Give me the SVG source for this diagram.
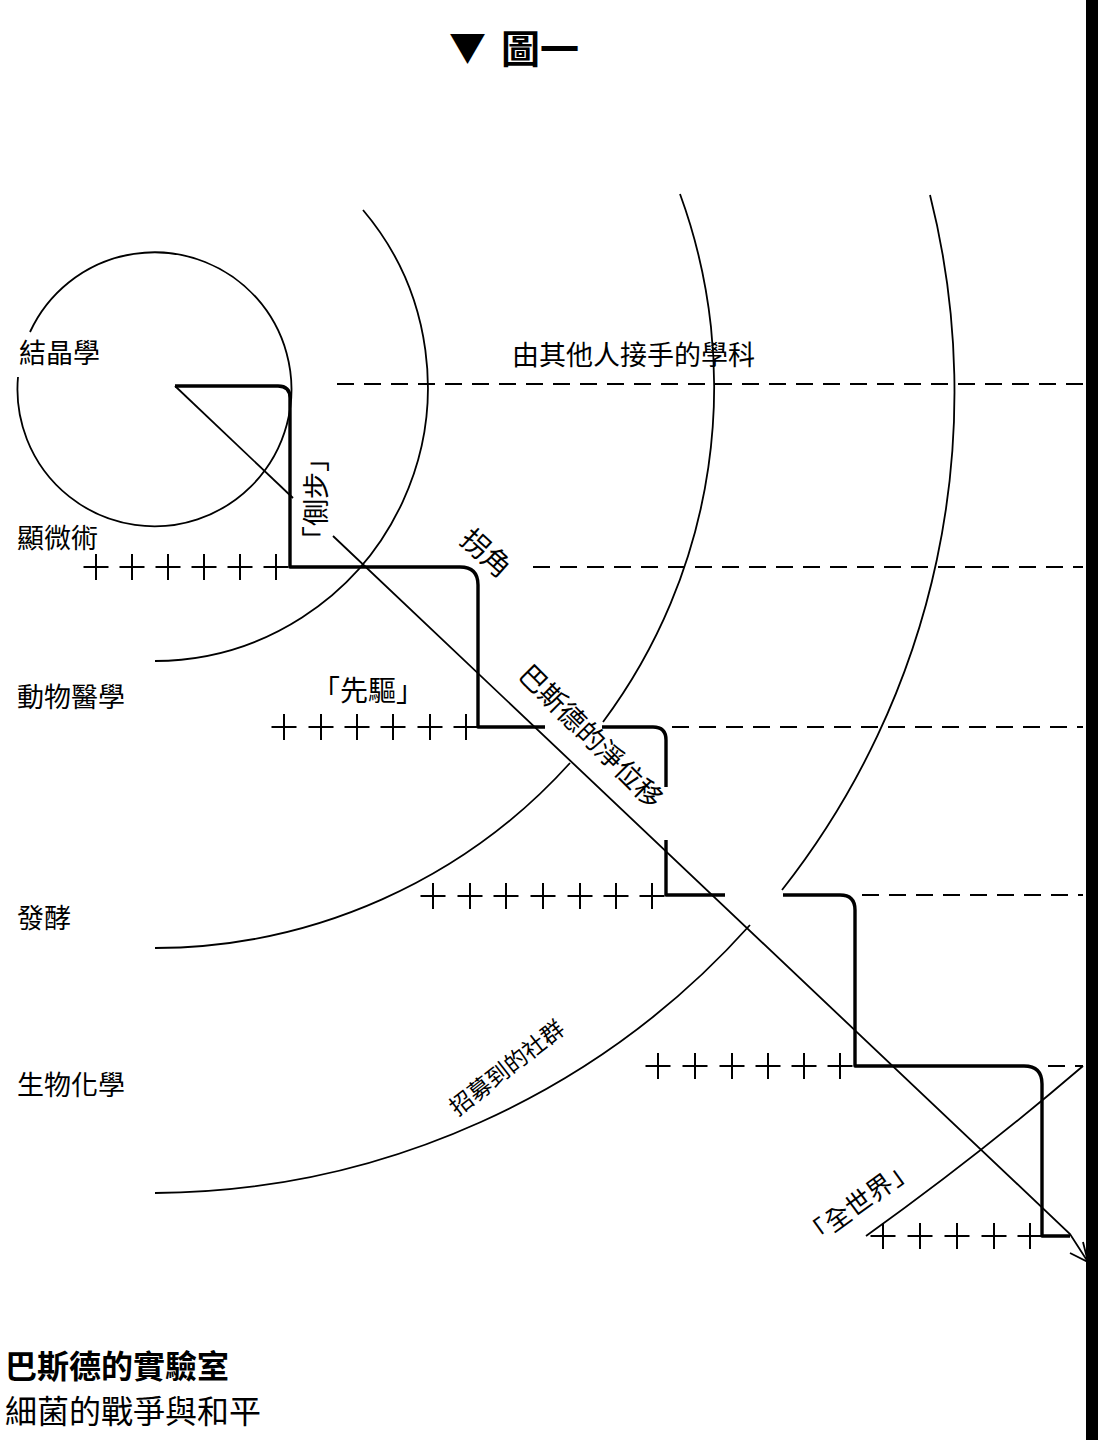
<svg xmlns="http://www.w3.org/2000/svg" xmlns:xlink="http://www.w3.org/1999/xlink" width="1098" height="1440" viewBox="0 0 1098 1440">
<style>
.thin{fill:none;stroke:#000;stroke-width:1.8}
.thick{fill:none;stroke:#000;stroke-width:3.4;stroke-linejoin:round}
.dash{fill:none;stroke:#000;stroke-width:1.8;stroke-dasharray:17 10}
.cr{fill:none;stroke:#000;stroke-width:2}
text{font-family:"Noto Sans CJK TC","Noto Sans CJK SC",sans-serif;fill:#000}
.lab{font-size:27px}
</style>
<defs>
<path id="cross" d="M-12.5,0 H12.5 M0,-13 V13"/>
</defs>
<rect x="0" y="0" width="1098" height="1440" fill="#fff"/>
<rect x="1086" y="0" width="12" height="1440" fill="#000"/>

<g id="title">
<text font-size="37" font-weight="bold" x="449" y="62">▼</text>
<text font-size="39" font-weight="bold" x="501" y="63">圖一</text>
</g>

<g id="connectors">
<g id="arcs">
<path class="thin" d="M18,377 A137,137 0 1 0 30,332"/>
<path class="thin" d="M363,210 A274,274 0 0 1 155,661"/>
<path class="thin" d="M680,194 A561,561 0 0 1 603,722"/>
<path class="thin" d="M570,763 A561,561 0 0 1 155,948"/>
<path class="thin" d="M930,195 A805,805 0 0 1 782,890"/>
<path class="thin" d="M750,925 A805,805 0 0 1 155,1193"/>
<path class="thin" d="M1083,1066 Q978,1156 866,1236"/>
</g>
<g id="diagonal">
<path class="thin" d="M175,386 L293,498"/>
<path class="thin" d="M333,536 L1070,1234 L1088,1262"/>
<path class="thin" d="M1083,1242 L1088,1262 L1070,1253"/>
</g>
<g id="staircase">
<path class="thick" d="M175,386 H278 Q290,386 290,398 V567 H460 Q478,567 478,585 V727 H545"/>
<path class="thick" d="M602,727 H653 Q666,727 666,740 V787"/>
<path class="thick" d="M666,840 V895 H725"/>
<path class="thick" d="M783,895 H840 Q855,895 855,910 V1066 H1024 Q1042,1066 1042,1084 V1236 H1070"/>
</g>
<g id="dashed-lines">
<path class="dash" d="M337,384 H1083"/>
<path class="dash" d="M533,567 H1083"/>
<path class="dash" d="M672,727 H1083"/>
<path class="dash" d="M862,895 H1083"/>
<path class="dash" d="M1048,1066 H1083"/>
</g>
<g id="crosses" class="cr">
<use xlink:href="#cross" x="96" y="567"/><use xlink:href="#cross" x="132" y="567"/><use xlink:href="#cross" x="168" y="567"/><use xlink:href="#cross" x="204" y="567"/><use xlink:href="#cross" x="240" y="567"/><use xlink:href="#cross" x="276" y="567"/>
<use xlink:href="#cross" x="284" y="727"/><use xlink:href="#cross" x="321" y="727"/><use xlink:href="#cross" x="357" y="727"/><use xlink:href="#cross" x="393" y="727"/><use xlink:href="#cross" x="430" y="727"/><use xlink:href="#cross" x="466" y="727"/>
<use xlink:href="#cross" x="433" y="896"/><use xlink:href="#cross" x="470" y="896"/><use xlink:href="#cross" x="506" y="896"/><use xlink:href="#cross" x="543" y="896"/><use xlink:href="#cross" x="580" y="896"/><use xlink:href="#cross" x="616" y="896"/><use xlink:href="#cross" x="652" y="896"/>
<use xlink:href="#cross" x="658" y="1066"/><use xlink:href="#cross" x="695" y="1066"/><use xlink:href="#cross" x="732" y="1066"/><use xlink:href="#cross" x="768" y="1066"/><use xlink:href="#cross" x="804" y="1066"/><use xlink:href="#cross" x="840" y="1066"/>
<use xlink:href="#cross" x="883" y="1236"/><use xlink:href="#cross" x="920" y="1236"/><use xlink:href="#cross" x="957" y="1236"/><use xlink:href="#cross" x="994" y="1236"/><use xlink:href="#cross" x="1030" y="1236"/>
</g>
</g>

<g id="n-crystallography"><text class="lab" x="19" y="363">結晶學</text></g>
<g id="n-microscopy"><text class="lab" x="17" y="548">顯微術</text></g>
<g id="n-veterinary"><text class="lab" x="17" y="707">動物醫學</text></g>
<g id="n-fermentation"><text class="lab" x="17" y="928">發酵</text></g>
<g id="n-biochemistry"><text class="lab" x="17" y="1095">生物化學</text></g>
<g id="n-others"><text class="lab" x="512" y="365">由其他人接手的學科</text></g>
<g id="n-pioneer"><text font-size="28" x="312" y="701">「先驅」</text></g>
<g id="n-sidestep"><text class="lab" text-anchor="middle" transform="translate(316,499) rotate(-90)" x="0" y="10">「側步」</text></g>
<g id="n-corner"><text font-size="28" text-anchor="middle" transform="translate(486,553) rotate(42)" x="0" y="10">拐角</text></g>
<g id="n-displacement"><text font-size="27" text-anchor="middle" transform="translate(591,736) rotate(45)" x="0" y="10">巴斯德的淨位移</text></g>
<g id="n-community"><text font-size="23" text-anchor="middle" transform="translate(507,1068) rotate(-38)" x="0" y="8">招募到的社群</text></g>
<g id="n-world"><text font-size="26" text-anchor="middle" transform="translate(859,1203) rotate(-36)" x="0" y="9">「全世界」</text></g>

<g id="caption">
<text font-size="32" font-weight="bold" x="5" y="1378">巴斯德的實驗室</text>
<text font-size="32" x="5" y="1423">細菌的戰爭與和平</text>
</g>
</svg>
